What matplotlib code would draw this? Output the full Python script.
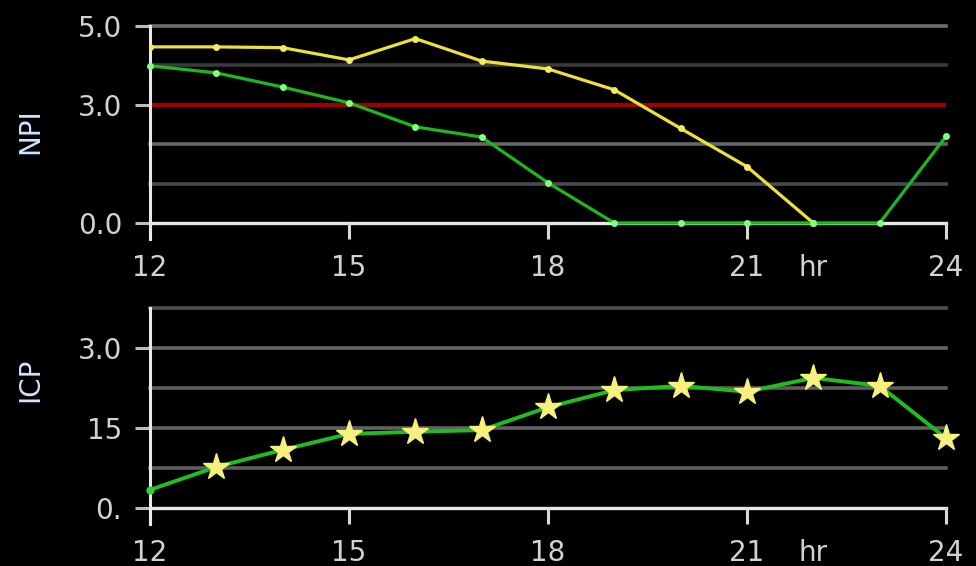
import numpy as np
import matplotlib
matplotlib.use('Agg')
import matplotlib.pyplot as plt
from matplotlib.transforms import offset_copy

# Stundenwerte 12-24 Uhr
stunden = [12, 13, 14, 15, 16, 17, 18, 19, 20, 21, 22, 23, 24]
npi_gelb = [4.47, 4.47, 4.45, 4.14, 4.68, 4.11, 3.91, 3.38, 2.40, 1.43, 0.0]
npi_gruen = [3.99, 3.81, 3.45, 3.05, 2.44, 2.18, 1.02, 0.0, 0.0, 0.0, 0.0, 0.0, 2.2]
icp = [3.4, 7.7, 10.9, 13.9, 14.3, 14.6, 18.9, 22.1, 22.9, 21.8, 24.4, 22.9, 13.1]

npi_ticks = [0.0, 3.0, 5.0]
npi_labels = ['0.0', '3.0', '5.0']
icp_ticks = [0, 15, 30]
icp_labels = ['0.', '15', '3.0']
x_ticks = [12, 15, 18, 21, 24]
NPI_SCHWELLE = 3.0

W, H = 976, 566
fig = plt.figure(figsize=(W / 100, H / 100), dpi=100, facecolor='black')

def px_axes(links, oben, rechts, unten):
    return fig.add_axes([links / W, 1 - unten / H, (rechts - links) / W, (unten - oben) / H])

ax1 = px_axes(150, 26, 946, 239)
ax2 = px_axes(150, 308, 946, 524)

TXT = '#d2d2d2'
FS = 20
XPAD = 11

def achse_stylen(ax, ylim, yticks, ylabels, gitter, gitterfarben, ylab, ylab_y):
    ax.set_facecolor('black')
    ax.set_xlim(12, 24)
    ax.set_ylim(*ylim)
    for s in ['top', 'right', 'bottom']:
        ax.spines[s].set_visible(False)
    ax.spines['left'].set_color('#e8e8e8')
    ax.spines['left'].set_linewidth(2.2)
    for y, c in zip(gitter, gitterfarben):
        ax.axhline(y, color=c, lw=2.6, zorder=0, clip_on=False)
    # Nulllinie als x-Achse
    ax.axhline(0, color='#e8e8e8', lw=2.4, zorder=1, clip_on=False)
    ax.set_yticks(yticks)
    ax.set_yticklabels(ylabels)
    ax.tick_params(axis='y', direction='out', length=11, width=2.2, color='#bdbdbd',
                   labelcolor=TXT, labelsize=FS, pad=9)
    ax.yaxis.get_major_ticks()[0].tick1line.set_color('#e8e8e8')
    ax.set_xticks(x_ticks)
    ax.set_xticklabels([str(t) for t in x_ticks])
    ax.tick_params(axis='x', direction='in', length=11.5, width=2.2, color='#d8d8d8',
                   labelcolor=TXT, labelsize=FS, pad=XPAD)
    # Einheit neben der 21
    tr = offset_copy(ax.get_xaxis_transform(), fig=fig, y=-XPAD, units='points')
    ax.text(22.0, 0, 'hr', transform=tr, color=TXT, fontsize=FS, ha='center', va='top')
    fig.text(30 / W, 1 - ylab_y / H, ylab, rotation=90, color='#cfe4ff', fontsize=20,
             ha='center', va='center')

achse_stylen(ax1, (-0.406, 5.0), npi_ticks, npi_labels,
             [5.0, 4.0, 2.0, 1.0], ['#6e6e6e', '#3a3a3a', '#686868', '#4a4a4a'],
             'NPI', 131)
achse_stylen(ax2, (-3.0, 37.5), icp_ticks, icp_labels,
             [37.5, 30, 22.5, 15, 7.5], ['#4e4e4e', '#666666', '#5e5e5e', '#626262', '#5e5e5e'],
             'ICP', 380)

# Grenzwert NPI
ax1.axhline(NPI_SCHWELLE, color='#a00000', lw=3, zorder=1)

ax1.plot(stunden[:len(npi_gelb)], npi_gelb, color='#ece03a', lw=2.3, marker='o',
         markersize=5, markerfacecolor='#f4ec60', markeredgecolor='none', zorder=3)
ax1.plot(stunden, npi_gruen, color='#1cb81c', lw=2.3, marker='o',
         markersize=5, markerfacecolor='#80ff80', markeredgecolor='none', zorder=3,
         clip_on=False)

ax2.plot(stunden, icp, color='#20bc20', lw=2.8, marker='o', markersize=6,
         markerfacecolor='#30d030', markeredgecolor='none', markevery=[0], zorder=3,
         clip_on=False)
ax2.plot(stunden, icp, linestyle='none', marker='*', markersize=20,
         markerfacecolor='#f7f07c', markeredgecolor='#f7f07c', markevery=slice(1, None),
         zorder=4, clip_on=False)

fig.savefig('out.png', dpi=100, facecolor='black')
